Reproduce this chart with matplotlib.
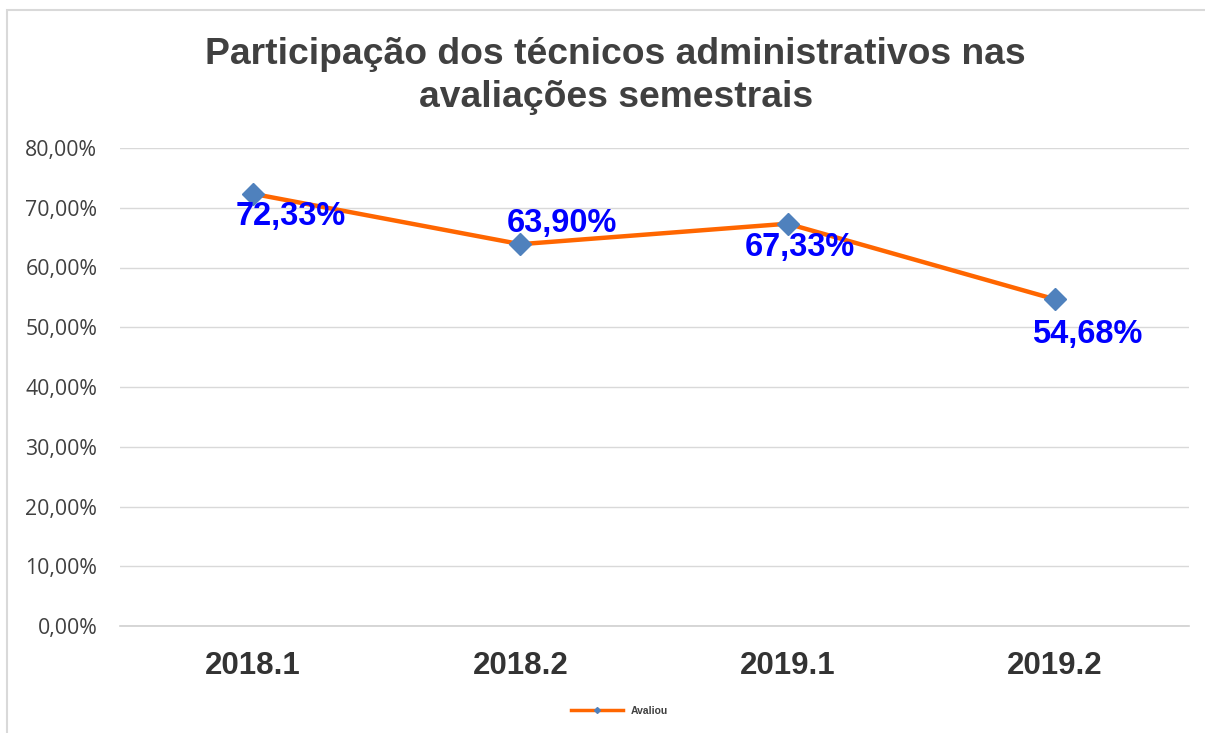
import matplotlib.pyplot as plt
from matplotlib.patches import Rectangle
from matplotlib.ticker import FuncFormatter
from matplotlib.lines import Line2D

# Data
semestres = ["2018.1", "2018.2", "2019.1", "2019.2"]
avaliou = [0.7233, 0.6390, 0.6733, 0.5468]
rotulos = ["72,33%", "63,90%", "67,33%", "54,68%"]
# label offsets in points (dx, dy)
offsets = [(27, -16), (30, 15), (9, -17), (23, -25)]

plt.rcParams["font.family"] = ["Liberation Sans", "DejaVu Sans"]

fig = plt.figure(figsize=(12.05, 7.33), dpi=100)
# outer chart border (only left/top visible in the crop)
fig.patches.append(Rectangle((7 / 1205, -0.1), 1.2, 1 - 10 / 733 + 0.1,
                             transform=fig.transFigure, fill=False,
                             edgecolor="#d9d9d9", linewidth=1.5))

ax = fig.add_axes([119.5 / 1205, 107 / 733, 1069 / 1205, 478 / 733])
x = list(range(len(semestres)))
ax.plot(x, avaliou, color="#ff6600", linewidth=3.2, marker="D",
        markersize=11, markerfacecolor="#4f81bd", markeredgecolor="#4f81bd",
        zorder=3)

for xi, yi, txt, off in zip(x, avaliou, rotulos, offsets):
    ax.annotate(txt, (xi, yi), xytext=off, textcoords="offset points",
                ha="center", va="center", fontsize=23.5, fontweight="bold",
                color="#0000ff", zorder=4)

ax.set_xlim(-0.5, len(semestres) - 0.5)
ax.set_ylim(0, 0.8)
ax.set_yticks([i / 10 for i in range(9)])
ax.yaxis.set_major_formatter(FuncFormatter(lambda v, p: f"{v * 100:.2f}%".replace(".", ",")))
ax.set_xticks(x)
ax.set_xticklabels(semestres, fontsize=22.5, fontweight="bold", color="#333333")
ax.tick_params(axis="y", labelsize=15.3, labelcolor="#404040", length=0, pad=16)
for t in ax.get_yticklabels():
    t.set_family(["Open Sans", "DejaVu Sans"])
ax.tick_params(axis="x", length=0, pad=18)
ax.grid(axis="y", color="#d9d9d9", linewidth=1)
ax.axhline(0, color="#d0d0d0", linewidth=1.2, clip_on=False, zorder=1)
ax.set_axisbelow(True)
for s in ax.spines.values():
    s.set_visible(False)

fig.text(0.511, 0.896, "Participação dos técnicos administrativos nas\navaliações semestrais",
         ha="center", va="center", fontsize=26.8, fontweight="bold",
         color="#404040", linespacing=1.3)

handle = Line2D([], [], color="#ff6600", linewidth=2.5, marker="D",
                markersize=3, markerfacecolor="#4f81bd", markeredgecolor="#4f81bd")
fig.legend([handle], ["Avaliou"], loc="center", bbox_to_anchor=(0.514, 1 - 711 / 733),
           frameon=False, prop={"size": 7.5, "weight": "bold"}, labelcolor="#404040",
           handlelength=5)

plt.savefig("out.png", dpi=100)
